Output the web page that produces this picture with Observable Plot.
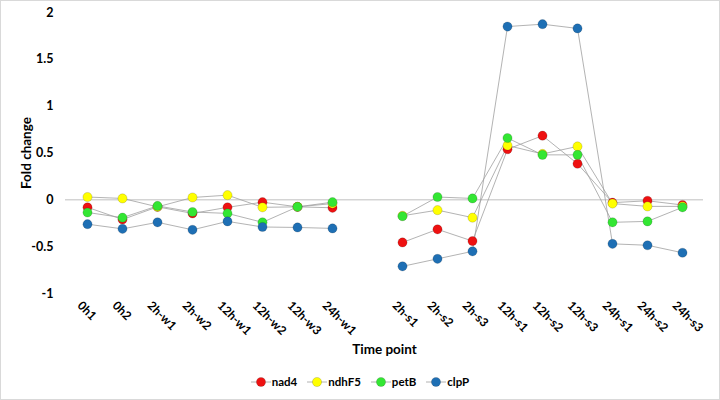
<!DOCTYPE html>
<html><head><meta charset="utf-8">
<script src="https://cdn.jsdelivr.net/npm/d3@7"></script>
<script src="https://cdn.jsdelivr.net/npm/@observablehq/plot@0.6"></script>
<style>
body{margin:0;background:#fff}
#wrap{position:relative;width:720px;height:400px;font-family:Lato,"Open Sans",sans-serif;overflow:hidden}
#frame{position:absolute;left:0;top:0;width:718px;height:398px;border:1px solid #d9d9d9;pointer-events:none}
#chart{position:absolute;left:0;top:0}
#legend{position:absolute;top:375px;left:0;width:720px;display:flex;justify-content:center;align-items:center;font-size:11.5px;font-weight:bold;color:#000}
.item{display:flex;align-items:center;margin:0 5px}
.item span{margin-left:1px}
</style></head>
<body>
<div id="wrap"><div id="chart"></div><div id="legend"></div><div id="frame"></div></div>
<script>
const categories = ["0h1","0h2","2h-w1","2h-w2","12h-w1","12h-w2","12h-w3","24h-w1","","2h-s1","2h-s2","2h-s3","12h-s1","12h-s2","12h-s3","24h-s1","24h-s2","24h-s3"];
const seriesNames = ["nad4","ndhF5","petB","clpP"];
const seriesColors = ["#ee1111","#ffff00","#33e633","#1e6fb4"];
const nad4  = [-0.08,-0.21,-0.075,-0.145,-0.08,-0.025,-0.075,-0.085,null,-0.455,-0.315,-0.44,0.54,0.685,0.385,-0.03,-0.01,-0.055];
const ndhF5 = [0.03,0.015,-0.075,0.025,0.05,-0.08,-0.075,-0.04,null,-0.17,-0.11,-0.19,0.58,0.49,0.57,-0.04,-0.07,-0.07];
const petB  = [-0.135,-0.19,-0.065,-0.13,-0.145,-0.24,-0.075,-0.025,null,-0.175,0.03,0.015,0.66,0.48,0.48,-0.24,-0.23,-0.08];
const clpP  = [-0.26,-0.31,-0.24,-0.32,-0.23,-0.29,-0.295,-0.305,null,-0.71,-0.63,-0.55,1.85,1.875,1.83,-0.47,-0.485,-0.565];
const yTicks = [-1,-0.5,0,0.5,1,1.5,2];

const seriesValues = [nad4, ndhF5, petB, clpP];
const data = [];
seriesNames.forEach((s, k) => categories.forEach((c, i) => data.push({series: s, cat: c, value: seriesValues[k][i]})));

const chart = Plot.plot({
  width: 720, height: 360,
  marginTop: 12, marginLeft: 65, marginRight: 17, marginBottom: 67,
  style: {fontFamily: "Lato, 'Open Sans', sans-serif", fontSize: "12px", fontWeight: "bold", color: "#000", background: "transparent"},
  x: {type: "point", domain: categories, padding: 0.5},
  y: {domain: [-1, 2]},
  color: {domain: seriesNames, range: seriesColors},
  marks: [
    Plot.ruleY([0], {stroke: "#bfbfbf", strokeWidth: 1}),
    Plot.line(data, {x: "cat", y: "value", z: "series", stroke: "#a0a0a0", strokeWidth: 0.8}),
    Plot.dot(data, {x: "cat", y: "value", fill: "series", r: 4.6, stroke: "rgba(0,0,0,0.3)", strokeWidth: 0.5}),
    Plot.axisY({ticks: yTicks, tickSize: 0, tickPadding: 12, tickFormat: d => String(d), fontSize: 12.5, label: null}),
    Plot.axisY({ticks: [], tickSize: 0, fontSize: 13.5,
      label: "Fold change", labelAnchor: "center", labelArrow: "none", labelOffset: 44}),
    Plot.axisX({tickSize: 0, tickRotate: 45, tickPadding: 10, dx: -8, fontSize: 12, label: null}),
    Plot.axisX({ticks: [], tickSize: 0, fontSize: 13.5,
      label: "Time point", labelAnchor: "center", labelArrow: "none", labelOffset: 60})
  ]
});
document.getElementById("chart").appendChild(chart);

const legend = document.getElementById("legend");
seriesNames.forEach((s, k) => {
  const item = document.createElement("div");
  item.className = "item";
  item.innerHTML = `<svg width="20" height="12"><line x1="0" x2="20" y1="6" y2="6" stroke="#a0a0a0" stroke-width="0.8"/><circle cx="10" cy="6" r="4.6" fill="${seriesColors[k]}" stroke="rgba(0,0,0,0.3)" stroke-width="0.5"/></svg><span>${s}</span>`;
  legend.appendChild(item);
});
</script>
</body></html>
